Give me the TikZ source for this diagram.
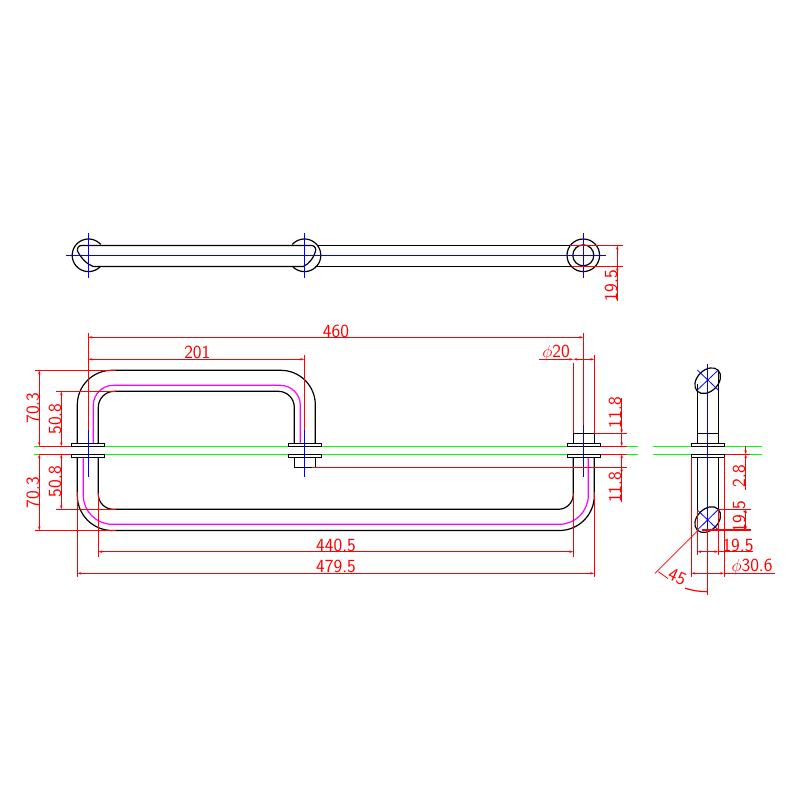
\documentclass[tikz,border=0pt]{standalone}
\usepackage{tikz}
\usetikzlibrary{arrows.meta,shapes.geometric}

\definecolor{cadred}{RGB}{255,0,0}
\definecolor{cadpink}{RGB}{255,0,255}
\definecolor{cadgreen}{RGB}{0,255,0}
\definecolor{cadblue}{RGB}{0,0,255}

\tikzset{
    tube/.style={black, line width=1.2pt},
    path3/.style={cadpink, line width=1.2pt},
    axis/.style={cadblue, line width=1.2pt},
    ground/.style={cadgreen, line width=1.2pt},
    extline/.style={cadred, line width=1.2pt},
    dimen/.style={cadred, line width=1.2pt, >={Stealth[length=4pt,width=2.4pt]}},
    flange/.style={black, fill=white, line width=1.2pt},
    dimtext/.style={cadred, inner sep=0pt, font=\sffamily\fontsize{18.5}{18.5}\selectfont},
    cut/.style={draw, ellipse, black, line width=1.2pt, inner sep=0pt, minimum width=29.6pt, minimum height=21pt, rotate=45},
}

\begin{document}
\begin{tikzpicture}[x=1pt, y=-1pt]
    \useasboundingbox (0,0) rectangle (800,800);

    % Ground lines
    \draw [ground] (34.3,446.3) -- (637.7,446.3);
    \draw [ground] (34.3,454.3) -- (637.7,454.3);
    \draw [ground] (653.3,446.3) -- (761.7,446.3);
    \draw [ground] (653.3,454.3) -- (761.7,454.3);

    % Top view
    \draw [tube] (81.7,245.5) -- (311.7,245.5) .. controls (315,245.5) and (316.5,249) .. (315.3,252) .. controls (313.5,258) and (309,264) .. (303.3,266.5) -- (93.3,266.5) .. controls (87,264.5) and (81,258) .. (77.5,251) .. controls (77,248) and (78.5,245.5) .. (81.7,245.5);
    \draw [tube] (318,245.5) -- (570,245.5);
    \draw [tube] (315,266.5) -- (572,266.5);
    \draw [tube] plot [domain=-42:-318, samples=40] ({88.5+16.3*cos(\x)},{255.3+16.3*sin(\x)});
    \draw [tube] plot [domain=-138:138, samples=40] ({304.5+16.3*cos(\x)},{255.3+16.3*sin(\x)});
    \draw [tube] (583.3,255.3) circle [radius=16.3pt];
    \draw [tube] (583.3,255.3) circle [radius=10.5pt];

    % Front view
    \draw [tube, rounded corners=34.5pt] (77.3,443.3) |- (315.3,370.3) -- (315.3,443.3);
    \draw [tube, rounded corners=16pt] (98.3,443.3) |- (294.3,391.3) -- (294.3,443.3);
    \draw [path3, rounded corners=20pt] (93.3,443.3) |- (300.3,385.3) -- (300.3,443.3);
    \draw [tube, rounded corners=35pt] (77.3,457.3) |- (594.3,530.5) -- (594.3,457.3);
    \draw [tube, rounded corners=15pt] (98.3,457.3) |- (573.3,509.3) -- (573.3,457.3);
    \draw [path3, rounded corners=29pt] (83.3,457.3) |- (588.3,524.3) -- (588.3,457.3);
    \draw [tube] (294.3,457.3) |- (315.3,467.3) -- (315.3,457.3);
    \draw [tube] (573.3,443.3) |- (594.3,433.3) -- (594.3,443.3);
    \foreach \fx/\fy in {71.3/443.3, 71.3/454.3, 288.3/443.3, 288.3/454.3, 567.3/443.3, 567.3/454.3, 691.3/443.3, 691.3/454.3}
        \draw [flange] (\fx,\fy) rectangle ++(33.4,3);

    % Side view
    \node [cut] (cuttop) at (707.7,380.7) {};
    \node [cut] (cutbot) at (707.7,519.6) {};
    \draw [tube] (697.3,443.3) -- (697.3,384.3);
    \draw [tube] (718.3,443.3) -- (718.3,370);
    \draw [tube] (697.3,433.3) -- (718.3,433.3);
    \draw [tube] (697.3,457.3) -- (697.3,510);
    \draw [tube] (718.3,457.3) -- (718.3,510);

    % Center lines
    \draw [axis] (66,255.3) -- (606,255.3);
    \foreach \ax in {88.3,304.3,583.3}
        \draw [axis] (\ax,233) -- (\ax,278);
    \draw [axis] (88.3,430) -- (88.3,476.7);
    \draw [axis] (304.3,430) -- (304.3,476.7);
    \draw [axis] (583.3,425) -- (583.3,476.7);
    \draw [axis] (707.3,364) -- (707.3,530);
    \draw [axis, line width=.8pt] (697.3,390) -- (718.3,370);
    \draw [axis, line width=.8pt] (697.3,370) -- (718.3,390);
    \draw [axis, line width=.8pt] (697.3,530) -- (718.3,509.5);
    \draw [axis, line width=.8pt] (697.3,510) -- (718.3,530);

    % Extension lines
    \draw [extline] (570,245.5) -- (622.7,245.5);
    \draw [extline] (572,266.5) -- (622.7,266.5);
    \draw [extline] (88.3,333.3) -- (88.3,430);
    \draw [extline] (304.3,355) -- (304.3,430);
    \draw [extline] (583.3,333.3) -- (583.3,425);
    \draw [extline] (573.3,363) -- (573.3,433.3);
    \draw [extline] (594.3,355) -- (594.3,433.3);
    \draw [extline] (35,370.3) -- (115.7,370.3);
    \draw [extline] (56,391.3) -- (115.7,391.3);
    \draw [extline] (35,530.5) -- (115.7,530.5);
    \draw [extline] (56,509.3) -- (115.7,509.3);
    \draw [extline] (39.3,446.3) -- (71.3,446.3);
    \draw [extline] (39.3,454.3) -- (71.3,454.3);
    \draw [extline] (594.3,433.3) -- (626.7,433.3);
    \draw [extline] (600.7,446.3) -- (626.7,446.3);
    \draw [extline] (600.7,454.3) -- (626.7,454.3);
    \draw [extline] (311.7,467.3) -- (626.7,467.3);
    \draw [extline] (98.3,493) -- (98.3,556.7);
    \draw [extline] (573.3,493) -- (573.3,556.7);
    \draw [extline] (77.3,491.7) -- (77.3,577.3);
    \draw [extline] (594.3,491.7) -- (594.3,577.3);
    \draw [extline] (691.3,457.3) -- (691.3,576.7);
    \draw [extline] (724.3,457.3) -- (724.3,576.7);
    \draw [extline] (697.3,510) -- (697.3,555);
    \draw [extline] (718.3,510) -- (718.3,555);
    \draw [extline] (724.7,454.3) -- (750,454.3);
    \draw [extline] (718.3,509.3) -- (750.7,509.3);
    \draw [extline] (701.7,530) -- (750.7,530);
    \draw [extline] (707.3,530) -- (707.3,595);
    \draw [extline, line width=.8pt] (655,573.3) -- (698.3,530);

    % Dimensions
    \draw [dimen, <-] (617.3,245.5) -- (617.3,301);
    \draw [dimen, ->] (617.3,290) -- (617.3,266.5);
    \draw [dimen, <->] (88.3,337.3) -- (583.3,337.3);
    \draw [dimen, <->] (88.3,359.3) -- (304.3,359.3);
    \draw [dimen, ->] (539.3,359.3) -- (573.3,359.3);
    \draw [dimen, <->] (573.3,359.3) -- (594.3,359.3);
    \draw [dimen, <->] (39.3,370.3) -- (39.3,446.3);
    \draw [dimen, <->] (61.3,391.3) -- (61.3,446.3);
    \draw [dimen, <->] (39.3,454.3) -- (39.3,530.5);
    \draw [dimen, <->] (61.3,454.3) -- (61.3,509.3);
    \draw [dimen, ->] (621.7,398.3) -- (621.7,433.3);
    \draw [dimen, <-] (621.7,446.3) -- (621.7,433.3);
    \draw [dimen, <-] (621.7,454.3) -- (621.7,502.3);
    \draw [dimen, ->] (621.7,480) -- (621.7,467.3);
    \draw [dimen, <->] (98.3,551.7) -- (573.3,551.7);
    \draw [dimen, <->] (77.3,573.3) -- (594.3,573.3);
    \draw [dimen, <-] (745.7,454.3) -- (745.7,490);
    \draw [dimen, ->] (745.7,446.3) -- (745.7,454.3);
    \draw [dimen, <->] (745.7,509.3) -- (745.7,530);
    \draw [dimen, <->] (697.3,551.7) -- (718.3,551.7);
    \draw [dimen] (718.3,551.7) -- (753.3,551.7);
    \draw [dimen, <->] (691.3,573.3) -- (724.3,573.3);
    \draw [dimen] (724.3,573.3) -- (775,573.3);
    \draw [dimen, line width=.8pt] (658.3,571.7) -- (668,578.5);
    \draw [dimen] (685.1,588.2) .. controls (692,590.5) and (700,591.7) .. (707.3,591.7);

    % Labels
    \node [dimtext, rotate=90] (lbltube)  at (611,285.7) {19.5};
    \node [dimtext] (lblspan)  at (336,331) {460};
    \node [dimtext] (lblmid)   at (197.3,352.5) {201};
    \node [dimtext] (lbldia)   at (556,352.5) {$\phi$20};
    \node [dimtext, rotate=90] (lblhtop)  at (32.7,408) {70.3};
    \node [dimtext, rotate=90] (lblitop)  at (55,419) {50.8};
    \node [dimtext, rotate=90] (lblhbot)  at (32.7,492.7) {70.3};
    \node [dimtext, rotate=90] (lblibot)  at (55,481.7) {50.8};
    \node [dimtext, rotate=90] (lblcapt)  at (615,412.7) {11.8};
    \node [dimtext, rotate=90] (lblcapb)  at (615,487.5) {11.8};
    \node [dimtext] (lblinner) at (336,545) {440.5};
    \node [dimtext] (lblouter) at (336,566.5) {479.5};
    \node [dimtext, rotate=90] (lblgap)   at (739,476) {2.8};
    \node [dimtext, rotate=90] (lblcutv)  at (739,516.7) {19.5};
    \node [dimtext] (lblcuth)  at (738,545) {19.5};
    \node [dimtext] (lblcutd)  at (752,566.5) {$\phi$30.6};
    \node [dimtext, rotate=-25] (lblang)  at (677.3,577) {45};
\end{tikzpicture}
\end{document}
